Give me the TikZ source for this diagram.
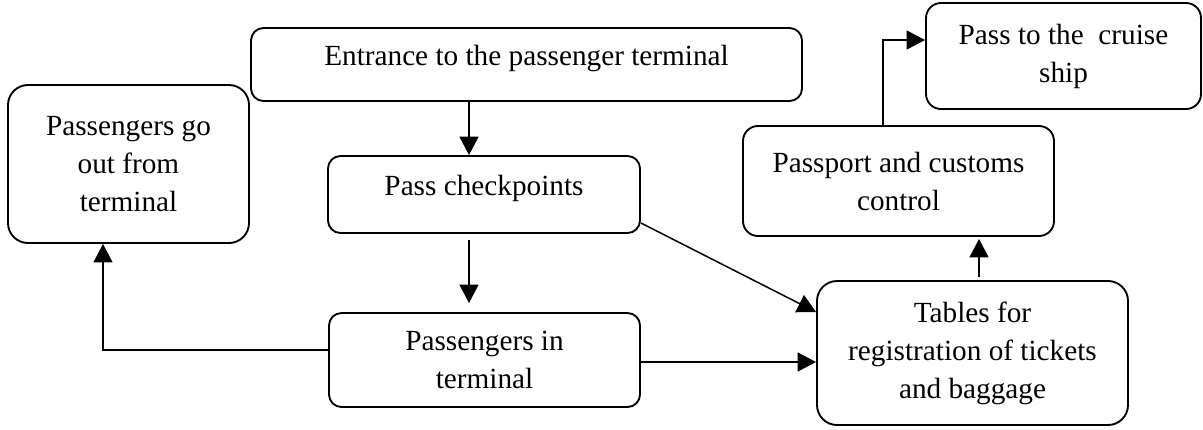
\documentclass[tikz,border=0pt]{standalone}
\usepackage{fontspec}
\setmainfont{Liberation Serif}
\usetikzlibrary{arrows.meta, positioning}

\begin{document}
\begin{tikzpicture}[
            x=0.4pt, y=-0.4pt,
            >={Triangle[length=7.4pt, width=7.6pt]},
            font=\fontsize{11.7}{15.2}\selectfont,
            stage/.style={draw, line width=0.75pt, rectangle, rounded corners=5pt, inner sep=0pt, align=center},
            oneline/.style={text depth=7pt},
            link/.style={->, line width=0.6pt},
        ]
            \useasboundingbox (0,0) rectangle (1203,429);

            % Draw the boxes of the terminal
            \node[stage, oneline, minimum width=220.4pt, minimum height=29.2pt] (entrance) at (526.5,64.5) {Entrance to the passenger terminal};
            \node[stage, oneline, minimum width=124.8pt, minimum height=30.8pt] (check) at (484,194.5) {Pass checkpoints};
            \node[stage, minimum width=124.4pt, minimum height=37.6pt] (inside) at (484.5,360) {Passengers in\\terminal};
            \node[stage, rounded corners=8pt, minimum width=96.4pt, minimum height=63.2pt] (out) at (128.5,164) {Passengers go\\out from\\terminal};

            % Draw the boxes on the way to the ship
            \node[stage, rounded corners=8pt, minimum width=124.4pt, minimum height=57.6pt] (tables) at (972.5,353) {Tables for\\registration of tickets\\and baggage};
            \node[stage, rounded corners=6pt, minimum width=124.4pt, minimum height=44pt] (passport) at (898.5,181) {Passport and customs\\control};
            \node[stage, rounded corners=6pt, minimum width=110pt, minimum height=42.4pt] (ship) at (1063.5,56) {Pass to the\ \ cruise\\ship};

            % Points the connectors pass through
            \coordinate (k1) at (469,0);
            \coordinate (k2) at (103,350);
            \coordinate (k3) at (0,362);
            \coordinate (k4) at (0,223);
            \coordinate (k5) at (0,312);
            \coordinate (k6) at (979,0);
            \coordinate (k7) at (883,40);

            % Connect the boxes
            \draw[link] (entrance.south -| k1) -- (check.north -| k1);
            \draw[link, shorten <=2.4pt, shorten >=3.6pt] (check.south -| k1) -- (inside.north -| k1);
            \draw[link] (inside.west |- k2) -| (out.south -| k2);
            \draw[link] (inside.east |- k3) -- (tables.west |- k3);
            \draw[link] (check.east |- k4) -- (tables.west |- k5);
            \draw[link, shorten <=1.2pt, shorten >=0.8pt] (tables.north -| k6) -- (passport.south -| k6);
            \draw[link] (passport.north -| k7) |- (ship.west |- k7);
        \end{tikzpicture}
\end{document}
